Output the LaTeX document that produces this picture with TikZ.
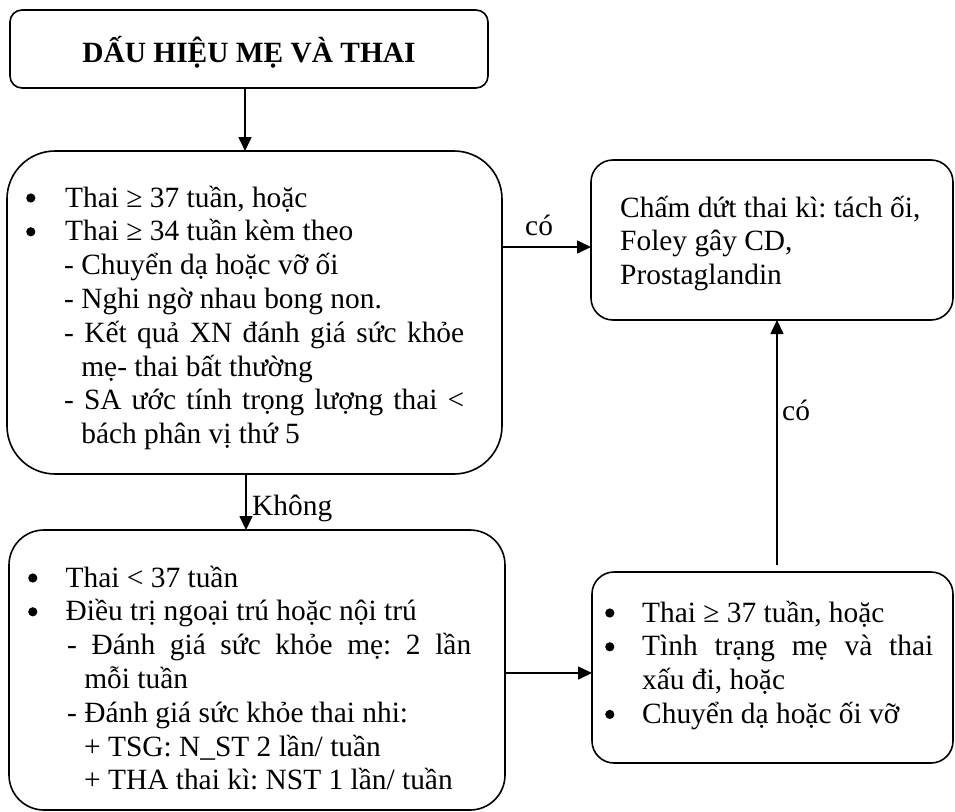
\documentclass[tikz,border=0pt]{standalone}
\usepackage{fontspec}
\setmainfont{Liberation Serif}
\usetikzlibrary{arrows.meta}
\frenchspacing

% round list bullet
\newcommand\bul{\tikz[baseline=0pt]\fill (5pt,9pt) circle[radius=4.6pt];}
\newlength\dashw
% bulleted paragraph: #1 = text indent
\newcommand\bitem[2]{\par\leftskip=0pt\hangindent=#1\hangafter=1\noindent\makebox[#1][l]{\bul}#2}
% dashed sub-item: #1 = left indent of the dash
\newcommand\sitem[2]{\par\leftskip=#1\settowidth\dashw{- }\hangindent=\dashw\hangafter=1\noindent #2}
% plain indented line
\newcommand\pitem[2]{\par\leftskip=#1\noindent #2}
\newcommand\txtblock[2]{\parbox[t]{#1}{\frenchspacing\parindent=0pt\hbadness=10000 #2\par}}

\begin{document}
\begin{tikzpicture}[x=1pt,y=-1pt,
  every node/.style={font=\fontsize{29.4}{33.8}\selectfont},
  box/.style={draw, line width=1.6pt, rounded corners=#1, outer sep=0pt,
    inner sep=0pt, anchor=north west},
  txt/.style={anchor=base west, inner sep=0pt},
  arr/.style={line width=1.6pt, -{Triangle[length=14pt,width=13pt]}}]
\useasboundingbox (0,0) rectangle (955,811);

% boxes
\node[box=12pt, minimum width=478pt, minimum height=78pt]  (b1) at (10,10) {};
\node[box=48pt, minimum width=495pt, minimum height=323pt] (b2) at (7,151) {};
\node[box=22pt, minimum width=362pt, minimum height=160pt] (b3) at (591,160) {};
\node[box=35pt, minimum width=496pt, minimum height=280pt] (b4) at (9,530) {};
\node[box=22pt, minimum width=361pt, minimum height=191pt] (b5) at (592,572) {};

% texts
\node[anchor=base, inner sep=0pt, font=\fontsize{29.4}{33.8}\selectfont\bfseries]
  (title) at (249,62) {DẤU HIỆU MẸ VÀ THAI};

\node[txt] (t2) at (26,207) {\txtblock{438pt}{%
  \bitem{39pt}{Thai ≥ 37 tuần, hoặc}
  \bitem{39pt}{Thai ≥ 34 tuần kèm theo}
  \sitem{38pt}{- Chuyển dạ hoặc vỡ ối}
  \sitem{38pt}{- Nghi ngờ nhau bong non.}
  \sitem{38pt}{- Kết quả XN đánh giá sức khỏe\linebreak mẹ- thai bất thường}
  \sitem{38pt}{- SA ước tính trọng lượng thai <\linebreak bách phân vị thứ 5}}};

\node[txt] (t3) at (620,217) {\txtblock{320pt}{%
  Chấm dứt thai kì: tách ối,\\
  Foley gây CD,\\
  Prostaglandin}};

\node[txt] (t4) at (28,587) {\txtblock{443pt}{%
  \bitem{37.5pt}{Thai < 37 tuần}
  \bitem{37.5pt}{Điều trị ngoại trú hoặc nội trú}
  \sitem{39pt}{- Đánh giá sức khỏe mẹ: 2 lần\linebreak mỗi tuần}
  \sitem{39pt}{- Đánh giá sức khỏe thai nhi:}
  \pitem{56pt}{+ TSG: N\_ST 2 lần/ tuần}
  \pitem{56pt}{+ THA thai kì: NST 1 lần/ tuần}}};

\node[txt] (t5) at (605,622) {\txtblock{328pt}{%
  \bitem{37pt}{Thai ≥ 37 tuần, hoặc}
  \bitem{37pt}{Tình trạng mẹ và thai\linebreak xấu đi, hoặc}
  \bitem{37pt}{Chuyển dạ hoặc ối vỡ}}};

% connectors
\coordinate (ax) at (245,0);
\coordinate (cy) at (0,247);
\coordinate (kx) at (246,0);
\coordinate (ry) at (0,673);
\coordinate (ux) at (777,0);
\draw[arr] (b1.south -| ax) -- (b2.north -| ax);
\draw[arr] (b2.east |- cy) -- (b3.west |- cy);
\draw[arr] (b2.south -| kx) -- (b4.north -| kx);
\draw[arr] (b4.east |- ry) -- (b5.west |- ry);
\draw[arr] ([yshift=7pt]b5.north -| ux) -- (b3.south -| ux);

% connector labels
\node[txt] (l1) at (525,235) {có};
\node[txt] (l2) at (252,515) {Không};
\node[txt] (l3) at (782,420) {có};
\end{tikzpicture}
\end{document}
